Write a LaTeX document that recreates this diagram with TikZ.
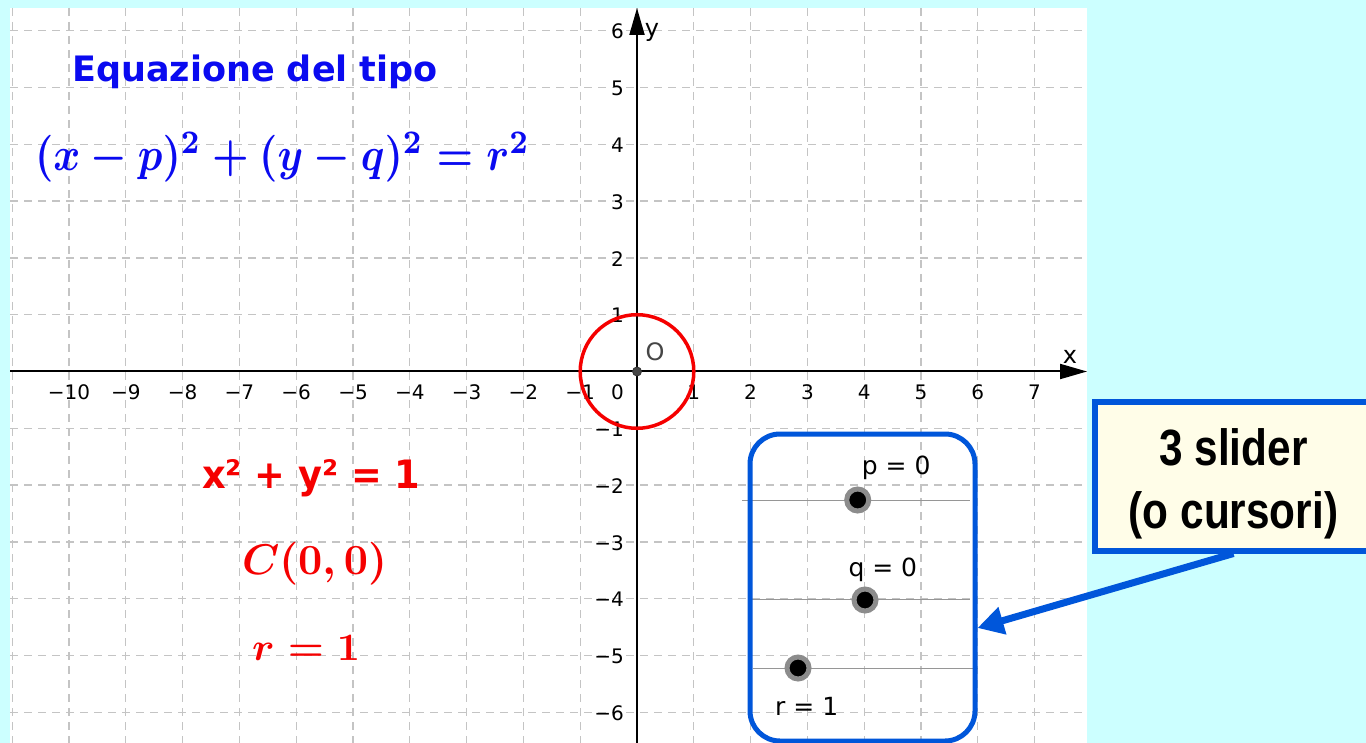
\documentclass[tikz,border=0pt]{standalone}
\usepackage{fontspec}
\setmainfont{DejaVu Sans}
\newfontfamily\libb{Liberation Sans}
\usepackage{graphicx}
\usetikzlibrary{arrows.meta,calc}
\definecolor{bgcyan}{RGB}{204,255,255}
\definecolor{gridgray}{RGB}{196,196,196}
\definecolor{eqblue}{RGB}{10,10,240}
\definecolor{eqred}{RGB}{245,0,0}
\definecolor{boxblue}{RGB}{0,86,218}
\definecolor{calloutfill}{RGB}{255,253,232}
\definecolor{ptgray}{RGB}{70,70,70}
\definecolor{slidergray}{RGB}{150,150,150}
\begin{document}
\begin{tikzpicture}[x=1pt,y=-1pt,
  gridline/.style={gridgray, line width=1.3pt, dash pattern=on 8pt off 6pt},
  axisline/.style={black, line width=2pt, -{Triangle[length=27pt,width=15pt]}},
  ticklab/.style={inner sep=0pt, font=\fontsize{20}{23}\selectfont},
  sliderline/.style={slidergray, line width=1pt},
  knob/.style={circle, fill=black, draw=black!45, line width=5pt, minimum size=22pt, inner sep=0pt},
  sliderlab/.style={anchor=base west, inner sep=0pt, font=\fontsize{25}{29}\selectfont},
  calltext/.style={anchor=base, inner sep=0pt, font=\libb\bfseries\fontsize{51}{60}\selectfont},
  callarrow/.style={boxblue, line width=7pt, -{Triangle[length=26pt,width=27pt]}}
]
\def\ox{637}
\def\oy{371.5}
\def\u{56.8}
\useasboundingbox (0,0) rectangle (1366,743);
\fill[bgcyan] (0,0) rectangle (1366,743);
\fill[white] (10,8) rectangle (1087,743);
% grid
\begin{scope}
\clip (10,8) rectangle (1087,743);
\foreach \k in {-11,...,7} \draw[gridline] ({\ox+\k*\u},8) -- ({\ox+\k*\u},743);
\foreach \k in {-6,...,6} \draw[gridline] (10,{\oy-\k*\u}) -- (1087,{\oy-\k*\u});
\end{scope}
% slider tracks
\draw[sliderline] (742,500) -- (970,500);
\draw[sliderline] (752,599) -- (970,599);
\draw[sliderline] (753,668) -- (978,668);
% axes
\draw[axisline] (10,\oy) -- (1087,\oy);
\draw[axisline] (\ox,743) -- (\ox,8);
\node[font=\fontsize{24}{28}\selectfont, inner sep=0pt] (xname) at (1070,357) {x};
\node[font=\fontsize{24}{28}\selectfont, inner sep=0pt] (yname) at (652,32) {y};
% tick labels
\foreach \k in {-10,...,-1,1,2,...,7}
  \node[ticklab] (xt\k) at ({\ox+\k*\u},392) {\ifnum\k<0 −\the\numexpr-\k\relax\else\k\fi};
\foreach \k in {-6,...,-1,1,2,...,6}
  \node[ticklab, anchor=east] (yt\k) at (624,{\oy-\k*\u+1}) {\ifnum\k<0 −\the\numexpr-\k\relax\else\k\fi};
\node[ticklab, anchor=east] (zero) at (624,392) {0};
% circle and origin
\draw[eqred, line width=3.5pt] (\ox,\oy) circle[radius=56.8pt];
\node[circle, fill=ptgray, draw=black!80, line width=0.8pt, minimum size=9pt, inner sep=0pt] (O) at (\ox,\oy) {};
\node[font=\fontsize{24}{28}\selectfont, text=ptgray, inner sep=0pt] (Olab) at (655,352) {O};
% texts
\node[anchor=base west, inner sep=0pt, text=eqblue, font=\bfseries\fontsize{35}{40}\selectfont] (title) at (72,82) {Equazione del tipo};
\node[text=eqblue, inner sep=0pt] (eq) at (282.5,157.5) {\resizebox*{495pt}{50pt}{\boldmath$(x-p)^2+(y-q)^2=r^2$}};
\node[anchor=base west, inner sep=0pt, text=eqred] (cart) at (202,488) {\resizebox{218pt}{29pt}{\bfseries\fontsize{38}{44}\selectfont x² + y² = 1}};
\node[text=eqred, inner sep=0pt] (cen) at (314.5,563.5) {\resizebox*{145pt}{43pt}{\boldmath$C(0,0)$}};
\node[anchor=base west, inner sep=0pt, text=eqred] (rad) at (252,660) {\resizebox{108pt}{25pt}{\boldmath$r=1$}};
% slider box
\node[draw=boxblue, line width=5pt, rounded corners=30pt, minimum width=225pt, minimum height=307pt, inner sep=0pt] (sliders) at (862.5,587.5) {};
\node[knob] (kp) at (857.7,500) {};
\node[knob] (kq) at (865,600) {};
\node[knob] (kr) at (798,668) {};
\node[sliderlab] (lp) at (861.7,474) {p = 0};
\node[sliderlab] (lq) at (848.3,576.7) {q = 0};
\node[sliderlab] (lr) at (775,715) {r = 1};
% callout
\node[draw=boxblue, fill=calloutfill, line width=6pt, minimum width=277pt, minimum height=149pt, inner sep=0pt] (callout) at (1233.5,476) {};
\node[calltext] (c1) at (1233.5,465) {\scalebox{0.83}[1]{3 slider}};
\node[calltext] (c2) at (1233.5,528) {\scalebox{0.83}[1]{(o cursori)}};
\draw[callarrow] (callout.south) -- ($(sliders.east)+(0,40.5)$);
\end{tikzpicture}
\end{document}
